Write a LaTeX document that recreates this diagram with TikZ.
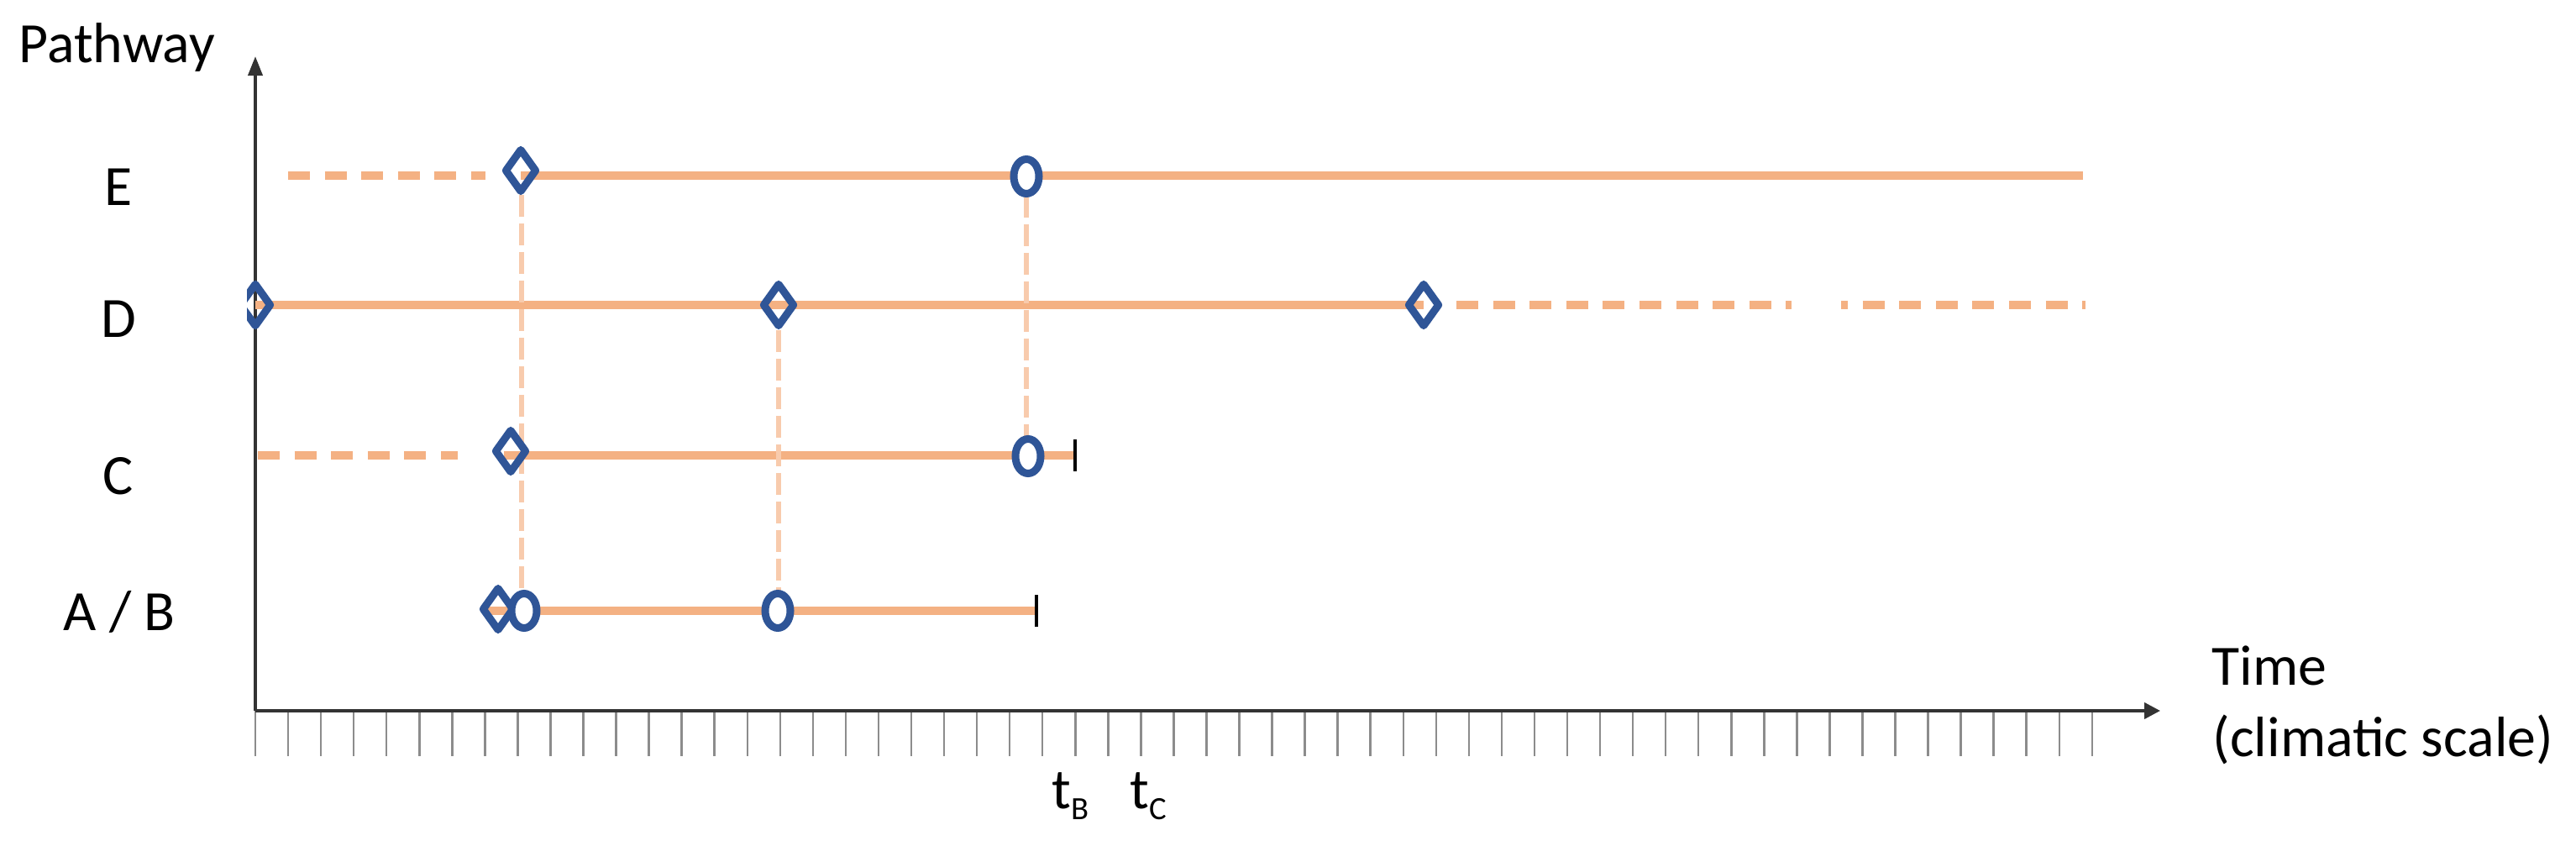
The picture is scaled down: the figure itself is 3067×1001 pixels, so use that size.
\documentclass[tikz,border=0pt]{standalone}
\usepackage{fontspec}
\setmainfont{Carlito}
\usetikzlibrary{shapes.geometric,arrows.meta}
\definecolor{orng}{HTML}{F4B183}
\definecolor{lorng}{HTML}{F8CBAD}
\definecolor{mblue}{HTML}{2F5597}
\begin{document}
\begin{tikzpicture}[x=0.1mm,y=-0.1mm,
  lbl/.style={font=\fontsize{19.3}{23}\selectfont, inner sep=0, anchor=base},
  pline/.style={draw=orng, line width=1mm},
  pdash/.style={draw=orng, line width=1mm, dash pattern=on 2.6mm off 1.76mm},
  vlink/.style={draw=lorng, line width=0.6mm, dash pattern=on 2.6mm off 0.8mm},
  dmark/.style={diamond, draw=mblue, line width=0.9mm, minimum width=3.9mm, minimum height=5.3mm, inner sep=0, line join=round},
  omark/.style={ellipse, draw=mblue, fill=white, line width=0.9mm, minimum width=3.0mm, minimum height=4.1mm, inner sep=0},
  endbar/.style={draw=black, line width=0.4mm},
  axisline/.style={draw=black!80, line width=0.4mm},
  ticksty/.style={draw=black!45, line width=0.25mm}]
\useasboundingbox (0,0) rectangle (3067,1001);

% axes
\coordinate (O) at (304,846);
\coordinate (Ytip) at (304,67);
\coordinate (Xtip) at (2572,846);
\foreach \k in {0,...,56}
  \draw[ticksty] ({304+39.05*\k},846) -- ({304+39.05*\k},900);
\draw[axisline, -{Triangle[length=2.3mm,width=1.7mm]}] (O) -- (Ytip);
\draw[axisline, -{Triangle[length=1.9mm,width=1.9mm]}] (O) -- (Xtip);

% labels
\node[lbl, anchor=base west] (pathway) at (22,75) {Pathway};
\node[lbl] (lE) at (141,245) {E};
\node[lbl] (lD) at (141,402) {D};
\node[lbl] (lC) at (141,588) {C};
\node[lbl] (lAB) at (142,750) {A / B};
\node[lbl, anchor=base west] (time) at (2633,815) {Time};
\node[lbl, anchor=base west] (climatic) at (2634,900) {(climatic scale)};
\node[lbl, anchor=base west] (tB) at (1252,962) {t\raisebox{-3.7pt}{\fontsize{11}{13}\selectfont B}};
\node[lbl, anchor=base west] (tC) at (1345,962) {t\raisebox{-3.7pt}{\fontsize{11}{13}\selectfont C}};

% pathway line coordinates
\coordinate (E0) at (343,209);
\coordinate (E1) at (578,209);
\coordinate (E2) at (620,209);
\coordinate (E3) at (2480,209);
\coordinate (D0) at (304,363);
\coordinate (D1) at (1695,363);
\coordinate (D2) at (1734,363);
\coordinate (D3) at (2133,363);
\coordinate (D4) at (2192,363);
\coordinate (D5) at (2483,363);
\coordinate (C0) at (307,542);
\coordinate (C1) at (545,542);
\coordinate (C2) at (600,542);
\coordinate (C3) at (1278,542);
\coordinate (A0) at (578,727);
\coordinate (A1) at (1232,727);

% pathway lines
\draw[pdash] (E0) -- (E1);
\draw[pline] (E2) -- (E3);
\draw[pline] (D0) -- (D1);
\draw[pdash] (D2) -- (D3);
\draw[pdash, dash phase=1.8mm] (D4) -- (D5);
\draw[pdash] (C0) -- (C1);
\draw[pline] (C2) -- (C3);
\draw[pline] (A0) -- (A1);

% end bars
\coordinate (Cb1) at (1280,523);
\coordinate (Cb2) at (1280,561);
\coordinate (Ab1) at (1234,708);
\coordinate (Ab2) at (1234,746);
\draw[endbar] (Cb1) -- (Cb2);
\draw[endbar] (Ab1) -- (Ab2);

% vertical links
\coordinate (V1a) at (621,232);
\coordinate (V1b) at (621,704);
\coordinate (V2a) at (927,393);
\coordinate (V2b) at (927,704);
\coordinate (V3a) at (1222,233);
\coordinate (V3b) at (1222,520);
\draw[vlink] (V1a) -- (V1b);
\draw[vlink] (V2a) -- (V2b);
\draw[vlink] (V3a) -- (V3b);

% markers
\begin{scope}
  \clip (294,300) rectangle (400,430);
  \node[dmark] (dD0) at (304,363) {};
\end{scope}
\node[dmark] (dE) at (620,203) {};
\node[dmark] (dD1) at (927,363) {};
\node[dmark] (dD2) at (1695,363) {};
\node[dmark] (dC) at (608,537) {};
\node[dmark] (dA) at (593,725) {};
\node[omark] (oE) at (1222,210) {};
\node[omark] (oC) at (1224,543) {};
\node[omark] (oA1) at (624,727) {};
\node[omark] (oA2) at (926,727) {};
\end{tikzpicture}
\end{document}
